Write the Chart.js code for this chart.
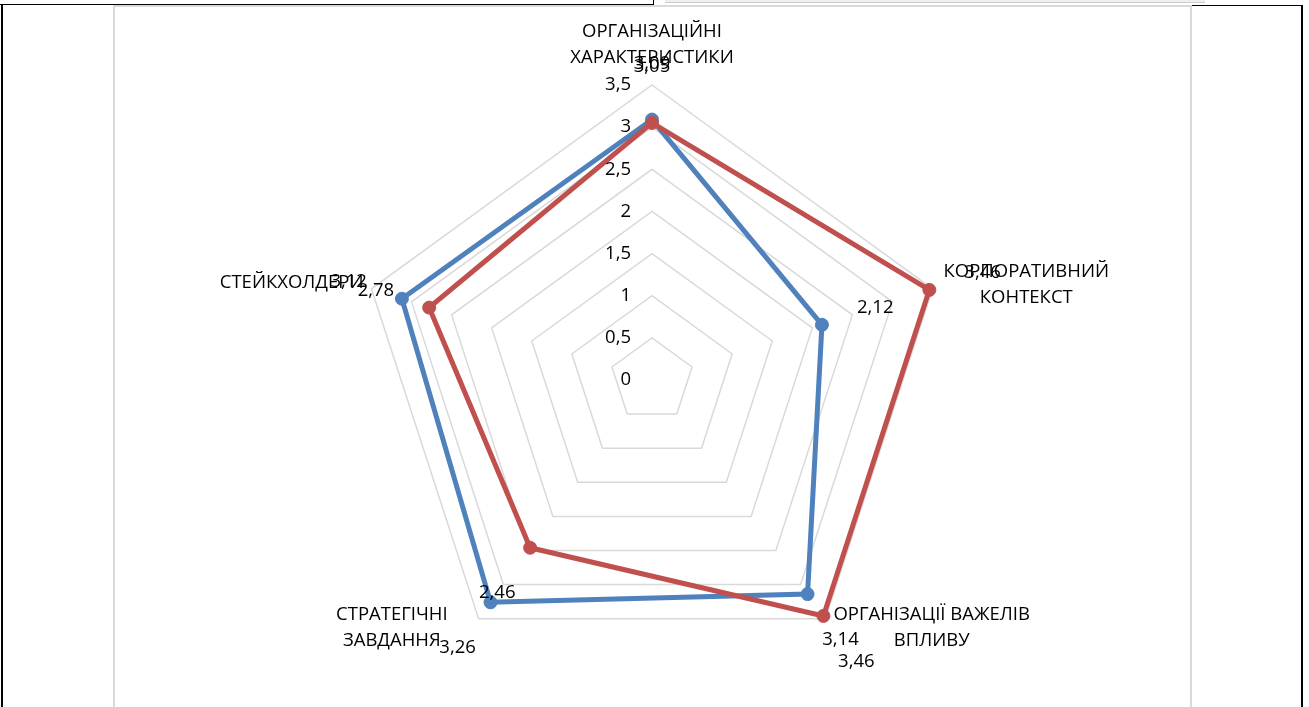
<!DOCTYPE html>
<html>
<head>
<meta charset="utf-8">
<script src="https://cdn.jsdelivr.net/npm/chart.js@4"></script>
<style>
  body { margin: 0; background: #fff; overflow: hidden; }
  .ln { position: absolute; }
  #box { position: absolute; left: 113px; top: 5px; width: 1075px; height: 720px;
         border-left: 2px solid #d9d9d9; border-top: 2px solid #d9d9d9; border-right: 2px solid #d9d9d9; }
  #myChart { position: absolute; left: 0; top: 0; }
</style>
</head>
<body>
<!-- frame of the scanned table cell -->
<div class="ln" style="left:0;top:4px;width:654px;height:1px;background:#000"></div>
<div class="ln" style="left:653px;top:0;width:1px;height:5px;background:#000"></div>
<div class="ln" style="left:665px;top:0;width:540px;height:2px;background:#eee;border-bottom:1px solid #ccc"></div>
<div class="ln" style="left:1190px;top:5px;width:113px;height:1px;background:#000"></div>
<div class="ln" style="left:1px;top:4px;width:2px;height:703px;background:#000"></div>
<div class="ln" style="left:1301px;top:5px;width:2px;height:702px;background:#000"></div>
<div id="box"></div>
<canvas id="myChart" width="1309" height="707"></canvas>
<script>
var categories = [
  ['ОРГАНІЗАЦІЙНІ', 'ХАРАКТЕРИСТИКИ'],
  ['КОРПОРАТИВНИЙ', 'КОНТЕКСТ'],
  ['ОРГАНІЗАЦІЇ ВАЖЕЛІВ', 'ВПЛИВУ'],
  ['СТРАТЕГІЧНІ', 'ЗАВДАННЯ'],
  ['СТЕЙКХОЛДЕРИ']
];
var blueValues = [3.09, 2.12, 3.14, 3.26, 3.12];
var redValues = [3.05, 3.46, 3.46, 2.46, 2.78];
var tickStep = 0.5;
var tickMax = 3.5;

// where each category caption sits next to its outer vertex
var captionPlace = [
  { side: 'center', dx: 0, dy: -40 },
  { side: 'left', dx: 11, dy: -4 },
  { side: 'left', dx: 8, dy: 9 },
  { side: 'right', dx: -31, dy: 9 },
  { side: 'right', dx: -8, dy: -6 }
];

var FONT = '18.5px "Open Sans", "Liberation Sans", sans-serif';

var textPlugin = {
  id: 'radarText',
  afterDatasetsDraw: function(chart) {
    var ctx = chart.ctx;
    var r = chart.scales.r;
    ctx.save();
    ctx.fillStyle = '#000';
    ctx.font = FONT;
    ctx.textBaseline = 'middle';

    // axis ticks, left of the top spoke
    ctx.textAlign = 'right';
    r.ticks.forEach(function(t) {
      var y = r.yCenter - r.getDistanceFromCenterForValue(t.value);
      ctx.fillText(String(t.value).replace('.', ','), r.xCenter - 21, y);
    });

    // category captions
    ctx.textAlign = 'center';
    categories.forEach(function(lines, i) {
      var p = r.getPointPosition(i, r.drawingArea);
      var a = captionPlace[i];
      var w = Math.max.apply(null, lines.map(function(s) { return ctx.measureText(s).width; }));
      var cx = p.x + a.dx;
      if (a.side === 'left') cx += w / 2;
      if (a.side === 'right') cx -= w / 2;
      var cy = p.y + a.dy;
      lines.forEach(function(s, k) {
        ctx.fillText(s, cx, cy + (k - (lines.length - 1) / 2) * 26);
      });
    });

    // value labels, pushed outward along each spoke
    chart.data.datasets.forEach(function(ds) {
      ds.data.forEach(function(v, i) {
        var p = r.getPointPosition(i, r.getDistanceFromCenterForValue(v) + 56);
        ctx.fillText(String(v).replace('.', ','), p.x, p.y);
      });
    });
    ctx.restore();
  }
};

var ctx = document.getElementById('myChart');
var myChart = new Chart(ctx, {
  type: 'radar',
  data: {
    labels: categories,
    datasets: [{
      label: 'red',
      data: redValues,
      borderColor: '#c0504d',
      backgroundColor: '#c0504d',
      pointBackgroundColor: '#c0504d',
      pointBorderColor: '#c0504d',
      borderWidth: 5,
      pointRadius: 6.5,
      pointBorderWidth: 1,
      fill: false
    }, {
      label: 'blue',
      data: blueValues,
      borderColor: '#4f81bd',
      backgroundColor: '#4f81bd',
      pointBackgroundColor: '#4f81bd',
      pointBorderColor: '#4f81bd',
      borderWidth: 5,
      pointRadius: 6.5,
      pointBorderWidth: 1,
      fill: false
    }]
  },
  options: {
    responsive: false,
    animation: false,
    layout: { padding: { top: 85, bottom: 32, left: 0, right: 5 } },
    plugins: { legend: { display: false }, tooltip: { enabled: false } },
    elements: { line: { tension: 0 } },
    scales: {
      r: {
        min: 0,
        max: tickMax,
        ticks: { display: false, stepSize: tickStep },
        grid: { color: '#d9d9d9', lineWidth: 1.5 },
        angleLines: { display: false },
        pointLabels: { display: false }
      }
    }
  },
  plugins: [textPlugin]
});
</script>
</body>
</html>
